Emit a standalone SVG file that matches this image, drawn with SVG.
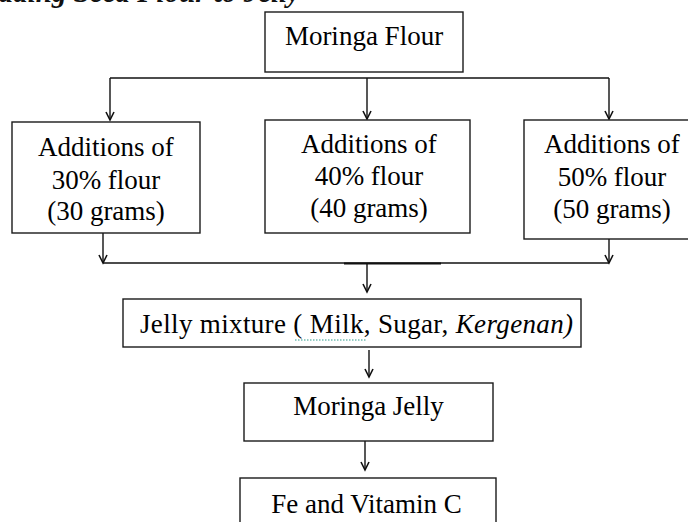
<svg xmlns="http://www.w3.org/2000/svg" width="688" height="522" viewBox="0 0 688 522">
<style>
.box{fill:#fff;stroke:#1a1a1a;stroke-width:1.4}
.t{font-family:"Liberation Serif",serif;font-size:27px;fill:#000;text-anchor:middle}
.ln{fill:none;stroke:#111;stroke-width:1.4}
.title{font-family:"Liberation Serif",serif;font-size:29px;font-weight:bold;font-style:italic;fill:#111;text-anchor:end}
</style>
<defs>
<marker id="ah" markerUnits="userSpaceOnUse" markerWidth="12" markerHeight="12" viewBox="-10 -6 12 12" refX="0" refY="0" orient="auto">
<path d="M-8,-4 L0,0 L-8,4" fill="none" stroke="#111" stroke-width="1.6"/>
</marker>
</defs>
<rect width="688" height="522" fill="#fff"/>
<text class="title" x="300" y="2">Adding Seed Flour to Jelly</text>

<g id="connectors">
<line class="ln" x1="110" y1="78" x2="609" y2="78"/>
<line class="ln" x1="110" y1="78" x2="110" y2="120" marker-end="url(#ah)"/>
<line class="ln" x1="367" y1="78" x2="367" y2="119" marker-end="url(#ah)"/>
<line class="ln" x1="609" y1="78" x2="609" y2="119" marker-end="url(#ah)"/>
<line class="ln" x1="103" y1="233" x2="103" y2="263" marker-end="url(#ah)"/>
<line class="ln" x1="609" y1="239" x2="609" y2="263" marker-end="url(#ah)"/>
<line class="ln" x1="103" y1="263" x2="609" y2="263"/>
<line x1="344" y1="263.5" x2="441" y2="263.5" stroke="#111" stroke-width="2.2"/>
<line class="ln" x1="367" y1="263" x2="367" y2="292" marker-end="url(#ah)"/>
<line class="ln" x1="369" y1="350" x2="369" y2="377" marker-end="url(#ah)"/>
<line class="ln" x1="365" y1="441" x2="365" y2="470" marker-end="url(#ah)"/>
</g>

<g id="moringa-flour">
<rect class="box" x="265" y="12" width="198" height="60"/>
<text class="t" x="364" y="45">Moringa Flour</text>
</g>

<g id="add-30">
<rect class="box" x="12" y="122" width="188" height="111"/>
<text class="t" x="106" y="156">Additions of</text>
<text class="t" x="106" y="189">30% flour</text>
<text class="t" x="106" y="220">(30 grams)</text>
</g>

<g id="add-40">
<rect class="box" x="265" y="120" width="205" height="113"/>
<text class="t" x="369" y="153">Additions of</text>
<text class="t" x="369" y="185">40% flour</text>
<text class="t" x="369" y="217">(40 grams)</text>
</g>

<g id="add-50">
<rect class="box" x="524" y="120" width="180" height="119"/>
<text class="t" x="612" y="153">Additions of</text>
<text class="t" x="612" y="186">50% flour</text>
<text class="t" x="612" y="218">(50 grams)</text>
</g>

<g id="jelly-mixture">
<rect class="box" x="123" y="299" width="458" height="48"/>
<text class="t" x="356.5" y="333" textLength="433" lengthAdjust="spacing">Jelly mixture ( Milk, Sugar, <tspan font-style="italic">Kergenan)</tspan></text>
<line x1="295" y1="340" x2="367" y2="340" stroke="#2f9a8a" stroke-width="1.2" stroke-dasharray="1.5 1.5"/>
</g>

<g id="moringa-jelly">
<rect class="box" x="244" y="383" width="249" height="58"/>
<text class="t" x="368.5" y="415">Moringa Jelly</text>
</g>

<g id="fe-vitc">
<rect class="box" x="240" y="478" width="256" height="60"/>
<text class="t" x="366.5" y="513">Fe and Vitamin C</text>
</g>
</svg>
